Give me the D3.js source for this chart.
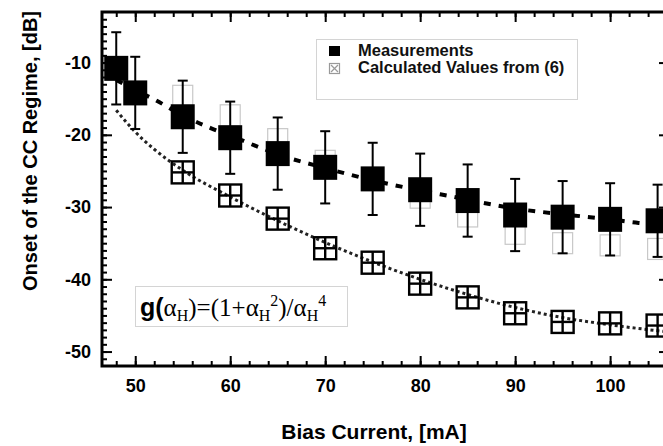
<!DOCTYPE html>
<html>
<head>
<meta charset="utf-8">
<script src="https://cdn.jsdelivr.net/npm/d3@7"></script>
<style>
  html, body { margin: 0; padding: 0; background: #fff; overflow: hidden; }
  svg { display: block; }
</style>
</head>
<body>
<div id="chart"></div>
<script>
// Values
const currents = [48, 50, 55, 60, 65, 70, 75, 80, 85, 90, 95, 100, 105]
const measured = [-10.8, -14.2, -17.5, -20.4, -22.6, -24.5, -26.1, -27.6, -29.1, -31.1, -31.4, -31.7, -31.9]
const measuredErr = [5, 5, 5, 5, 5, 5, 5, 5, 5, 5, 5, 5, 5]

const calcCurrents = [55, 60, 65, 70, 75, 80, 85, 90, 95, 100, 105]
const calculated = [-25.2, -28.4, -31.6, -35.7, -37.7, -40.6, -42.5, -44.7, -45.9, -46.1, -46.4]

// faint grey boxes behind the measurements
const ghostCurrents = [55, 60, 65, 70, 75, 80, 85, 90, 95, 100, 105]
const ghost = [-14.6, -17.3, -20.6, -23.6, -26.2, -28.7, -31.3, -33.7, -35.0, -35.3, -35.8]

// fitted curves
const fitMeasX = [48, 50, 52, 55, 58, 60, 63, 65, 70, 75, 80, 84, 87, 90, 95, 100, 103, 106.2]
const fitMeasY = [-12.4, -13.8, -15.1, -17.3, -19.1, -20.1, -21.7, -22.7, -24.6, -26.3, -27.7, -28.7, -29.5, -30.2, -31.0, -31.7, -32.2, -32.5]
const fitCalcX = [48, 50, 52, 55, 60, 65, 70, 75, 80, 85, 90, 95, 100, 106.2]
const fitCalcY = [-16.6, -19.6, -22.0, -24.9, -28.6, -31.9, -34.9, -37.6, -40.0, -42.1, -43.9, -45.3, -46.3, -47.3]

const xMajor = [50, 60, 70, 80, 90, 100]
const yMajor = [-50, -40, -30, -20, -10]

const legendItems = ['Measurements', 'Calculated Values from (6)']

const width = 663
const height = 446
const plot = {left: 102, right: 669, top: 12, bottom: 366}

const svg = d3.select('#chart')
  .append('svg')
  .attr('width', width)
  .attr('height', height)
  .style('font-family', '"Liberation Sans", Arial, sans-serif')

const x = d3.scaleLinear().domain([46.5, 106.2]).range([plot.left, plot.right])
const y = d3.scaleLinear().domain([-52, -3]).range([plot.bottom, plot.top])

// plain hyphen for negative labels, like the original
const fmt = d => String(d)

// Axes - ticks point inwards
function minorAxis(axisFn, vals, size) {
  return axisFn(axisFn === d3.axisBottom || axisFn === d3.axisTop ? x : y)
    .tickValues(vals).tickSize(-size).tickSizeOuter(0).tickFormat('')
}
const xMinor = d3.range(48, 107, 2)
const yMinor = d3.range(-51, -3, 1)

const gAxes = svg.append('g')

const bottomG = gAxes.append('g').attr('transform', `translate(0,${plot.bottom})`)
bottomG.append('g').call(minorAxis(d3.axisBottom, xMinor, 5))
bottomG.append('g').call(d3.axisBottom(x).tickValues(xMajor).tickSize(-10).tickSizeOuter(0).tickPadding(13).tickFormat(fmt))

const topG = gAxes.append('g').attr('transform', `translate(0,${plot.top})`)
topG.append('g').call(minorAxis(d3.axisTop, xMinor, 5))
topG.append('g').call(d3.axisTop(x).tickValues(xMajor).tickSize(-10).tickSizeOuter(0).tickFormat(''))

const leftG = gAxes.append('g').attr('transform', `translate(${plot.left},0)`)
leftG.append('g').call(minorAxis(d3.axisLeft, yMinor, 5))
leftG.append('g').call(d3.axisLeft(y).tickValues(yMajor).tickSize(-10).tickSizeOuter(0).tickPadding(11).tickFormat(fmt))

const rightG = gAxes.append('g').attr('transform', `translate(${plot.right},0)`)
rightG.append('g').call(minorAxis(d3.axisRight, yMinor, 5))
rightG.append('g').call(d3.axisRight(y).tickValues(yMajor).tickSize(-10).tickSizeOuter(0).tickFormat(''))

gAxes.selectAll('.domain').remove()
gAxes.selectAll('.tick line').attr('stroke', '#000').attr('stroke-width', 2)
gAxes.selectAll('.tick text')
  .attr('fill', '#000')
  .style('font-size', '18px')
  .style('font-weight', 'bold')

// frame
svg.append('rect')
  .attr('x', plot.left)
  .attr('y', plot.top)
  .attr('width', plot.right - plot.left)
  .attr('height', plot.bottom - plot.top)
  .attr('fill', 'none')
  .attr('stroke', '#000')
  .attr('stroke-width', 3)

// Axis titles
svg.append('text')
  .attr('transform', `translate(37,${151}) rotate(-90)`)
  .attr('text-anchor', 'middle')
  .style('font-size', '20px')
  .style('font-weight', 'bold')
  .text('Onset of the CC Regime, [dB]')

svg.append('text')
  .attr('x', 374)
  .attr('y', 439)
  .attr('text-anchor', 'middle')
  .style('font-size', '21px')
  .style('font-weight', 'bold')
  .text('Bias Current, [mA]')

const gChart = svg.append('g')

// grey ghost boxes
gChart.selectAll('.ghost')
  .data(ghostCurrents)
  .join('rect')
  .attr('class', 'ghost')
  .attr('x', d => x(d) - 10)
  .attr('y', (d, i) => y(ghost[i]) - 10.5)
  .attr('width', 20)
  .attr('height', 21)
  .attr('fill', 'none')
  .attr('stroke', '#c8c8c8')
  .attr('stroke-width', 1.2)

// fitted lines
const line = d3.line().curve(d3.curveMonotoneX).x(d => x(d[0])).y(d => y(d[1]))

gChart.append('path')
  .attr('d', line(fitCalcX.map((v, i) => [v, fitCalcY[i]])))
  .attr('fill', 'none')
  .attr('stroke', '#222')
  .attr('stroke-width', 3)
  .attr('stroke-dasharray', '3 3')

gChart.append('path')
  .attr('d', line(fitMeasX.map((v, i) => [v, fitMeasY[i]])))
  .attr('fill', 'none')
  .attr('stroke', '#000')
  .attr('stroke-width', 4)
  .attr('stroke-dasharray', '7 8')

// error bars
const errG = gChart.selectAll('.err')
  .data(currents)
  .join('g')
  .attr('class', 'err')
  .attr('stroke', '#000')
  .attr('stroke-width', 2)
errG.append('line')
  .attr('x1', d => x(d)).attr('x2', d => x(d))
  .attr('y1', (d, i) => y(measured[i] + measuredErr[i]))
  .attr('y2', (d, i) => y(measured[i] - measuredErr[i]))
errG.append('line')
  .attr('x1', d => x(d) - 5).attr('x2', d => x(d) + 5)
  .attr('y1', (d, i) => y(measured[i] + measuredErr[i]))
  .attr('y2', (d, i) => y(measured[i] + measuredErr[i]))
errG.append('line')
  .attr('x1', d => x(d) - 5).attr('x2', d => x(d) + 5)
  .attr('y1', (d, i) => y(measured[i] - measuredErr[i]))
  .attr('y2', (d, i) => y(measured[i] - measuredErr[i]))

// measurement squares
gChart.selectAll('.meas')
  .data(currents)
  .join('rect')
  .attr('class', 'meas')
  .attr('x', d => x(d) - 12)
  .attr('y', (d, i) => y(measured[i]) - 12.5)
  .attr('width', 24)
  .attr('height', 25)
  .attr('fill', '#000')

// calculated markers (square with cross)
const calcG = gChart.selectAll('.calc')
  .data(calcCurrents)
  .join('g')
  .attr('class', 'calc')
  .attr('transform', (d, i) => `translate(${x(d)},${y(calculated[i])})`)
  .attr('stroke', '#000')
  .attr('stroke-width', 2.4)
  .attr('fill', 'none')
calcG.append('rect').attr('x', -11).attr('y', -11).attr('width', 22).attr('height', 22)
calcG.append('line').attr('x1', 0).attr('x2', 0).attr('y1', -11).attr('y2', 11)
calcG.append('line').attr('x1', -11).attr('x2', 11).attr('y1', 0).attr('y2', 0)

// Legend
const legend = svg.append('g')
legend.append('rect')
  .attr('x', 316.5).attr('y', 39.5)
  .attr('width', 261).attr('height', 60)
  .attr('fill', '#fff')
  .attr('stroke', '#d4d4d4')
  .attr('stroke-width', 1)
legend.append('rect')
  .attr('x', 329).attr('y', 46).attr('width', 11).attr('height', 10)
  .attr('fill', '#000')
const lm = legend.append('g').attr('stroke', '#999').attr('stroke-width', 1.2).attr('fill', 'none')
lm.append('rect').attr('x', 329.5).attr('y', 63.5).attr('width', 10).attr('height', 10)
lm.append('line').attr('x1', 331).attr('y1', 65).attr('x2', 338).attr('y2', 72)
lm.append('line').attr('x1', 338).attr('y1', 65).attr('x2', 331).attr('y2', 72)
legend.selectAll('.ltext')
  .data(legendItems)
  .join('text')
  .attr('class', 'ltext')
  .attr('x', 358)
  .attr('y', (d, i) => 56 + i * 17)
  .style('font-size', '16.5px')
  .style('font-weight', 'bold')
  .attr('fill', '#111')
  .text(d => d)

// Formula box
const fBox = svg.append('g')
fBox.append('rect')
  .attr('x', 135.5).attr('y', 286.5)
  .attr('width', 212).attr('height', 40)
  .attr('fill', '#fff')
  .attr('stroke', '#d4d4d4')
  .attr('stroke-width', 1)
const ft = fBox.append('text')
  .attr('x', 140)
  .attr('y', 316)
  .style('font-family', '"Liberation Serif", "Times New Roman", serif')
  .style('font-size', '25px')
  .attr('fill', '#000')
ft.append('tspan').style('font-family', '"Liberation Sans", Arial, sans-serif').style('font-weight', 'bold').text('g(')
ft.append('tspan').text('α')
ft.append('tspan').attr('dy', 5).style('font-size', '16px').text('H')
ft.append('tspan').attr('dy', -5).text(')=(1+α')
ft.append('tspan').attr('dy', 5).style('font-size', '16px').text('H')
ft.append('tspan').attr('dy', -15).style('font-size', '16px').text('2')
ft.append('tspan').attr('dy', 10).text(')/α')
ft.append('tspan').attr('dy', 5).style('font-size', '16px').text('H')
ft.append('tspan').attr('dy', -15).style('font-size', '16px').text('4')
</script>
</body>
</html>
